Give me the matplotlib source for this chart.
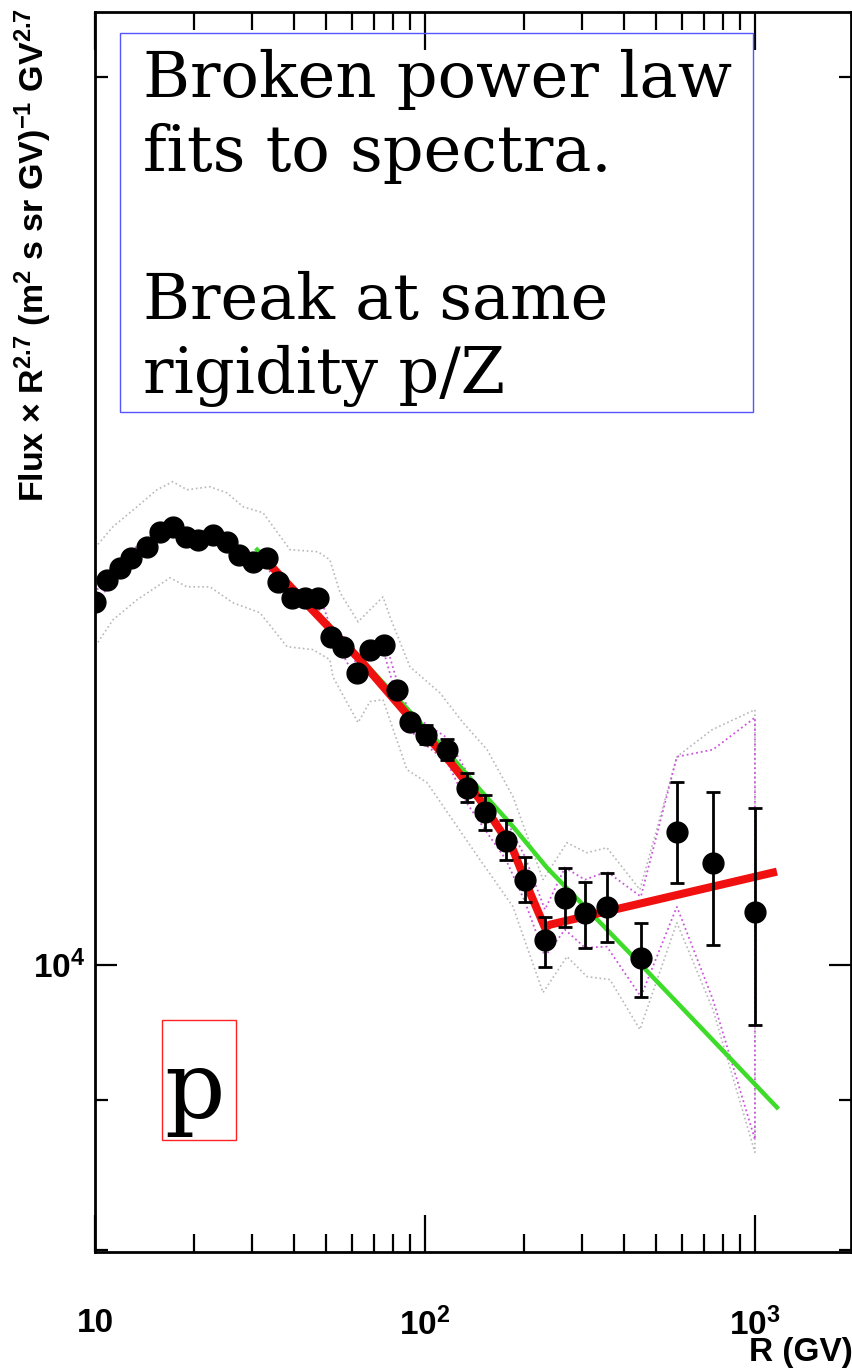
import numpy as np
import matplotlib
matplotlib.use("Agg")
import matplotlib.pyplot as plt
from matplotlib.patches import Rectangle
from matplotlib.ticker import FixedLocator, FixedFormatter, NullFormatter

plt.rcParams['mathtext.fontset'] = 'custom'
plt.rcParams['mathtext.rm'] = 'Liberation Sans:bold'
plt.rcParams['mathtext.bf'] = 'Liberation Sans:bold'
plt.rcParams['mathtext.it'] = 'Liberation Sans:bold'

# proton flux x R^2.7 points
rig = [10.0, 10.87, 11.9, 12.9, 14.4, 15.7, 17.2, 18.9, 20.5, 22.8, 25.1, 27.3, 30.1,
       33.2, 35.8, 39.5, 43.3, 47.4, 51.9, 56.4, 62.2, 68.1, 75.1, 82.3, 90.0, 100.7,
       116.6, 134.1, 152.0, 176.0, 200.9, 231.0, 265.6, 305.3, 356.0, 451.2, 580.0,
       745.9, 1000.0]
flux = [13275, 13506, 13634, 13741, 13859, 14022, 14077, 13968, 13935, 13989, 13914,
        13773, 13698, 13741, 13485, 13317, 13317, 13317, 12918, 12818, 12561, 12788,
        12838, 12395, 12090, 11968, 11828, 11482, 11269, 11016, 10686, 10197, 10537,
        10414, 10463, 10055, 11095, 10828, 10423]
err_lo = [0] * 25 + [90, 100, 130, 158, 162, 182, 213, 236, 280, 282, 302, 434, 671, 880]
err_hi = [0] * 25 + [90, 100, 130, 150, 183, 193, 185, 249, 255, 281, 278, 440, 618, 881]

# inner (magenta) error band
band_in_hi = [13355, 13586, 13714, 13821, 13939, 14102, 14157, 14048, 14015, 14069, 13994,
              13853, 13778, 13821, 13565, 13397, 13397, 13397, 12998, 12898, 12641, 12868,
              12918, 12475, 12170, 12068, 11938, 11622, 11419, 11199, 10879, 10439, 10786,
              10686, 10753, 10545, 11762, 11828, 12127]
band_in_lo = [13195, 13426, 13554, 13661, 13779, 13942, 13997, 13888, 13855, 13909, 13834,
              13693, 13618, 13661, 13405, 13237, 13237, 13237, 12838, 12738, 12481, 12708,
              12758, 12315, 12010, 11868, 11718, 11342, 11111, 10854, 10504, 10063, 10277,
              10134, 10141, 9753, 10463, 9731, 8723]

# outer (grey) band
out_hi_x = [10.0, 11.34, 13.41, 15.41, 17.2, 19.0, 22.3, 25.1, 28.1, 32.3, 39.0, 47.4, 51.5,
            55.3, 62.7, 74.6, 78.3, 90.0, 111.0, 130.4, 154.2, 184.8, 227.9, 269.3, 309.7,
            356.0, 448.2, 580.0, 740.7, 1000.0]
out_hi_y = [13848, 14077, 14298, 14489, 14580, 14489, 14523, 14454, 14298, 14231, 13826,
            13804, 13718, 13369, 13070, 13327, 13121, 12619, 12364, 12080, 11828, 11402,
            10686, 10999, 10913, 10956, 10603, 11762, 12012, 12203]
out_lo_x = [10.0, 11.34, 13.41, 16.88, 19.0, 22.3, 26.2, 31.6, 38.2, 45.8, 51.5, 52.6, 62.7,
            68.1, 74.6, 88.2, 101.4, 146.8, 184.8, 227.9, 269.3, 309.7, 363.5, 448.2, 580.0,
            745.9, 1000.0]
out_lo_y = [12818, 13090, 13296, 13526, 13431, 13431, 13265, 13162, 12818, 12788, 12688,
            12520, 12080, 12280, 12299, 11644, 11527, 10854, 10463, 9784, 10063, 9907, 9884,
            9506, 10333, 9655, 8636]

# broken power law fit
bpl_x = [33.2, 45.5, 63.5, 90.0, 119.0, 146.8, 184.8, 208.1, 231.0, 239.2, 1166.0]
bpl_y = [13698, 13193, 12688, 12127, 11717, 11375, 10939, 10578, 10293, 10317, 10753]

# single power law fit
spl_x = [31.0, 45.5, 63.5, 90.0, 119.0, 146.8, 184.8, 234.3, 448.2, 1166.0]
spl_y = [13826, 13213, 12708, 12184, 11781, 11463, 11138, 10786, 10008, 8945]

fig = plt.figure(figsize=(8.53, 13.70), dpi=100)
W, H = 853.0, 1370.0
ax = fig.add_axes([95 / W, 118 / H, 756 / W, 1240 / H])
ax.set_xscale('log')
ax.set_yscale('log')
ax.set_xlim(10, 1955)
ax.set_ylim(7990, 21040)

# bands as closed outlines
gx = out_hi_x + out_lo_x[::-1]
gy = out_hi_y + out_lo_y[::-1]
ax.fill(gx, gy, fill=False, edgecolor='#b8b8b8', linestyle=':', linewidth=1.2, zorder=1)
mx = rig + rig[::-1]
my = band_in_hi + band_in_lo[::-1]
ax.fill(mx, my, fill=False, edgecolor='#cc55dd', linestyle=':', linewidth=1.3, zorder=2)

ax.plot(spl_x, spl_y, color='#3cdc28', linewidth=3.2, zorder=3)
ax.plot(bpl_x, bpl_y, color='#f01010', linewidth=5.8, solid_capstyle='butt', zorder=4)

rig_a = np.array(rig)
flux_a = np.array(flux)
lo_a = np.array(err_lo)
hi_a = np.array(err_hi)
has_err = (lo_a > 0) | (hi_a > 0)
ax.errorbar(rig_a[has_err], flux_a[has_err], yerr=[lo_a[has_err], hi_a[has_err]],
            fmt='none', ecolor='black', elinewidth=2, capsize=5, capthick=2, zorder=5)
ax.plot(rig, flux, 'o', color='black', markersize=15, zorder=6)

# axes frame and ticks
for sp in ax.spines.values():
    sp.set_linewidth(2)
ax.xaxis.set_major_locator(FixedLocator([10, 100, 1000]))
ax.xaxis.set_major_formatter(FixedFormatter(['10', r'$10^{2}$', r'$10^{3}$']))
ax.xaxis.set_minor_locator(FixedLocator([20, 30, 40, 50, 60, 70, 80, 90,
                                         200, 300, 400, 500, 600, 700, 800, 900]))
ax.xaxis.set_minor_formatter(NullFormatter())
ax.yaxis.set_major_locator(FixedLocator([10000]))
ax.yaxis.set_major_formatter(FixedFormatter([r'$10^{4}$']))
ax.yaxis.set_minor_locator(FixedLocator([8000, 9000, 20000]))
ax.yaxis.set_minor_formatter(NullFormatter())

ax.tick_params(axis='both', which='both', direction='in', top=True, right=True, width=1.6)
ax.tick_params(axis='x', which='major', length=27, pad=40)
ax.tick_params(axis='x', which='minor', length=13)
ax.tick_params(axis='y', which='major', length=16, pad=7)
ax.tick_params(axis='y', which='minor', length=9)
for lab in ax.get_xticklabels() + ax.get_yticklabels():
    lab.set_fontsize(24)
    lab.set_fontweight('bold')
    lab.set_fontfamily('Liberation Sans')

fig.text(1.0, 1 - 1352 / H, 'R (GV)', ha='right', va='center', fontsize=24,
         fontweight='bold', family='Liberation Sans')
fig.text(33 / W, 1 - 8 / H,
         r'Flux $\times$ R$^{2.7}$ (m$^{2}$ s sr GV)$^{-1}$ GV$^{2.7}$',
         rotation=90, ha='center', va='top', fontsize=24.5, fontweight='bold',
         family='Liberation Sans')

# annotation boxes
fig.patches.append(Rectangle((120 / W, 1 - 412 / H), 633 / W, 379 / H, fill=False,
                             edgecolor='#5555ff', linewidth=1, transform=fig.transFigure))
fig.text(143 / W, 1 - 49 / H, 'Broken power law\nfits to spectra.\n\nBreak at same\nrigidity p/Z',
         ha='left', va='top', fontsize=46, family='DejaVu Serif', linespacing=1.27)
fig.patches.append(Rectangle((162 / W, 1 - 1140 / H), 74 / W, 120 / H, fill=False,
                             edgecolor='#ff2222', linewidth=1, transform=fig.transFigure))
fig.text(164 / W, 1 - 1092 / H, 'p', ha='left', va='center', fontsize=68,
         family='DejaVu Serif')

fig.savefig('out.png', dpi=100)
